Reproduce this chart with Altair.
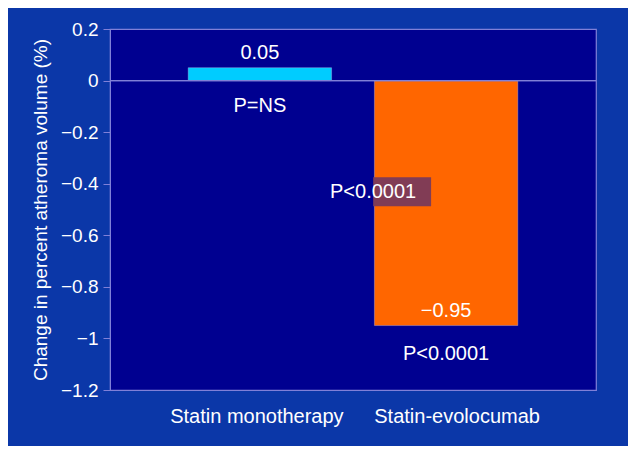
import altair as alt
import pandas as pd

groups = ["Statin monotherapy", "Statin-evolocumab"]
values = [0.05, -0.95]
value_labels = ["0.05", "\u22120.95"]
p_labels = ["P=NS", "P<0.0001"]
bar_colors = ["#00CCFF", "#FF6600"]

# comparison annotation (between groups)
cmp_label = "P<0.0001"
cmp_box_y = [-0.375, -0.487]
cmp_text_y = -0.433

y_ticks = [0.2, 0, -0.2, -0.4, -0.6, -0.8, -1, -1.2]

df = pd.DataFrame({
    "group": groups,
    "value": values,
    "vlabel": value_labels,
    "plabel": p_labels,
    "color": bar_colors,
    "zero": [0, 0],
})

FONT = "Liberation Sans"
LINE = "#8080D8"
TS = 20

x = alt.X("group:N", sort=groups,
          scale=alt.Scale(paddingInner=0.23, paddingOuter=0.42),
          axis=alt.Axis(title=None, labelAngle=0, ticks=False, domain=True,
                        domainColor=LINE, labelColor="white", labelFont=FONT,
                        labelFontSize=20, labelPadding=16,
                        labelOffset=alt.ExprRef(expr="datum.value == 'Statin-evolocumab' ? 11 : -3")))
y = alt.Y("value:Q", scale=alt.Scale(domain=[-1.2, 0.2], nice=False),
          axis=alt.Axis(title="Change in percent atheroma volume (%)",
                        values=y_ticks, format="~g", grid=False,
                        domainColor=LINE, tickColor=LINE, tickSize=7,
                        labelColor="white", labelFont=FONT, labelFontSize=19,
                        labelPadding=5, titleColor="white", titleFont=FONT,
                        titleFontSize=19, titleFontWeight="normal",
                        titlePadding=10))

bars = alt.Chart(df).mark_bar(stroke="#C8C8F0", strokeWidth=0.6, strokeOpacity=0.6).encode(
    x=x, y=y, y2="zero:Q",
    color=alt.Color("color:N", scale=None),
)

zero_rule = alt.Chart(df).mark_rule(color=LINE, strokeWidth=1.2).encode(
    y=alt.Y("zero:Q"),
)

top_lbl = alt.Chart(df[df.value > 0]).mark_text(
    color="white", font=FONT, fontSize=TS, baseline="bottom", dy=-5).encode(
    x=alt.X("group:N", sort=groups), y="value:Q", text="vlabel:N")
top_p = alt.Chart(df[df.value > 0]).mark_text(
    color="white", font=FONT, fontSize=TS, baseline="middle", dy=25).encode(
    x=alt.X("group:N", sort=groups), y="zero:Q", text="plabel:N")
neg_lbl = alt.Chart(df[df.value < 0]).mark_text(
    color="white", font=FONT, fontSize=TS, baseline="middle", dy=-15).encode(
    x=alt.X("group:N", sort=groups), y="value:Q", text="vlabel:N")
neg_p = alt.Chart(df[df.value < 0]).mark_text(
    color="white", font=FONT, fontSize=TS, baseline="middle", dy=28).encode(
    x=alt.X("group:N", sort=groups), y="value:Q", text="plabel:N")

cmp_df = pd.DataFrame({
    "group": [groups[1]],
    "y1": [cmp_box_y[0]],
    "y2": [cmp_box_y[1]],
    "ty": [cmp_text_y],
    "label": [cmp_label],
})
cmp_box = alt.Chart(cmp_df).mark_bar(color="#7A3A5A", width=58, xOffset=-44, opacity=0.95).encode(
    x=alt.X("group:N", sort=groups), y="y1:Q", y2="y2:Q")
cmp_text = alt.Chart(cmp_df).mark_text(
    color="white", font=FONT, fontSize=TS, baseline="middle", dx=-73).encode(
    x=alt.X("group:N", sort=groups), y="ty:Q", text="label:N")

chart = alt.layer(bars, zero_rule, cmp_box, top_lbl, top_p, neg_lbl, neg_p, cmp_text).properties(
    width=486, height=361,
    background="#0B37A8",
    autosize=alt.AutoSizeParams(type="none"),
    padding={"left": 102, "top": 21, "right": 32, "bottom": 56},
).configure_view(
    fill="#000090", stroke=LINE, strokeWidth=1.2,
)

chart.save("out.html", embed_options={"renderer": "svg", "actions": False})
